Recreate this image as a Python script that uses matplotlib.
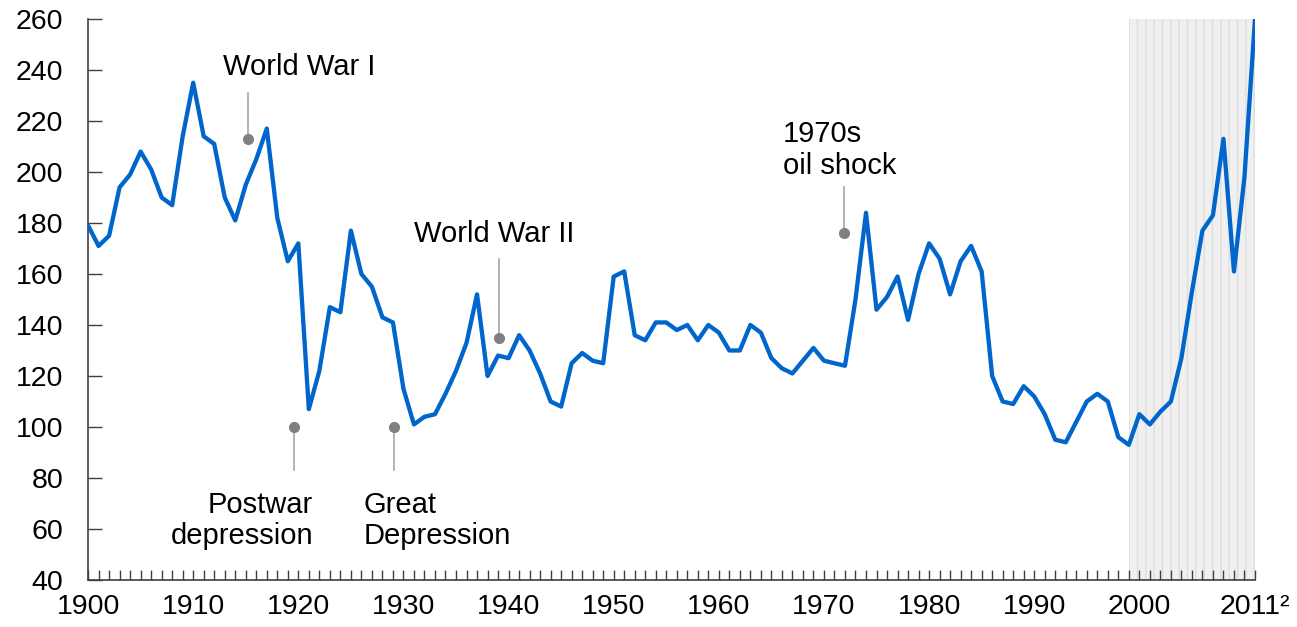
import numpy as np
import matplotlib
matplotlib.use("Agg")
import matplotlib.pyplot as plt
from matplotlib.ticker import MultipleLocator

plt.rcParams['font.family'] = ['Liberation Sans', 'DejaVu Sans']

# Index values, one per year 1900-2011
years = list(range(1900, 2012))
index_values = [
    179, 171, 175, 194, 199, 208, 201, 190, 187, 214,   # 1900s
    235, 214, 211, 190, 181, 195, 205, 217, 182, 165,   # 1910s
    172, 107, 122, 147, 145, 177, 160, 155, 143, 141,   # 1920s
    115, 101, 104, 105, 113, 122, 133, 152, 120, 128,   # 1930s
    127, 136, 130, 121, 110, 108, 125, 129, 126, 125,   # 1940s
    159, 161, 136, 134, 141, 141, 138, 140, 134, 140,   # 1950s
    137, 130, 130, 140, 137, 127, 123, 121, 126, 131,   # 1960s
    126, 125, 124, 150, 184, 146, 151, 159, 142, 160,   # 1970s
    172, 166, 152, 165, 171, 161, 120, 110, 109, 116,   # 1980s
    112, 105, 95, 94, 102, 110, 113, 110, 96, 93,       # 1990s
    105, 101, 106, 110, 127, 153, 177, 183, 213, 161,   # 2000s
    198, 260,                                           # 2010-2011
]

# annotations: label, dot year, dot value, end of leader line value
events = ["World War I", "Postwar\ndepression", "Great\nDepression",
          "World War II", "1970s\noil shock"]
event_years = [1915.2, 1919.6, 1929.1, 1939.1, 1971.9]
event_values = [213, 100, 100, 135, 176]
leader_ends = [231, 83, 83, 166, 194]

fig = plt.figure(figsize=(12.97, 6.27), dpi=100)
ax = fig.add_axes([0.0679, 0.075, 0.8997, 0.8947])

# shaded recent period
ax.axvspan(1999, 2011, facecolor='#f0f0f0', edgecolor='#dedede',
           hatch='||', linewidth=0, zorder=0)

ax.plot(years, index_values, color='#0066cc', linewidth=3.1, zorder=3)

for lab, ex, ev, le in zip(events, event_years, event_values, leader_ends):
    ax.plot([ex, ex], [ev, le], color='#a6a6a6', linewidth=1.2, zorder=2)
    ax.plot(ex, ev, 'o', color='#808080', markersize=7, zorder=4)

fs = 20.5
afs = 21
ax.text(1912.8, 235.5, events[0], fontsize=afs, ha='left', va='bottom')
ax.text(1921.4, 75, events[1], fontsize=afs, ha='right', va='top', linespacing=1.15)
ax.text(1926.2, 75, events[2], fontsize=afs, ha='left', va='top', linespacing=1.15)
ax.text(1931.0, 170, events[3], fontsize=afs, ha='left', va='bottom')
ax.text(1966.1, 197, events[4], fontsize=afs, ha='left', va='bottom', linespacing=1.15)

ax.set_xlim(1900, 2011)
ax.set_ylim(40, 260)

ax.set_xticks([1900, 1910, 1920, 1930, 1940, 1950, 1960, 1970, 1980, 1990, 2000, 2011])
ax.set_xticklabels(['1900', '1910', '1920', '1930', '1940', '1950', '1960',
                    '1970', '1980', '1990', '2000', '2011\u00b2'])
ax.xaxis.set_minor_locator(MultipleLocator(1))
ax.yaxis.set_major_locator(MultipleLocator(20))

ax.tick_params(axis='x', which='both', direction='in', length=7, width=1,
               color='#404040', labelsize=fs, pad=10)
ax.tick_params(axis='y', which='both', direction='in', length=10, width=1,
               color='#404040', labelsize=fs, pad=18)

for side in ['top', 'right']:
    ax.spines[side].set_visible(False)
for side in ['left', 'bottom']:
    ax.spines[side].set_color('#404040')
    ax.spines[side].set_linewidth(1.2)

fig.savefig('out.png', dpi=100)
